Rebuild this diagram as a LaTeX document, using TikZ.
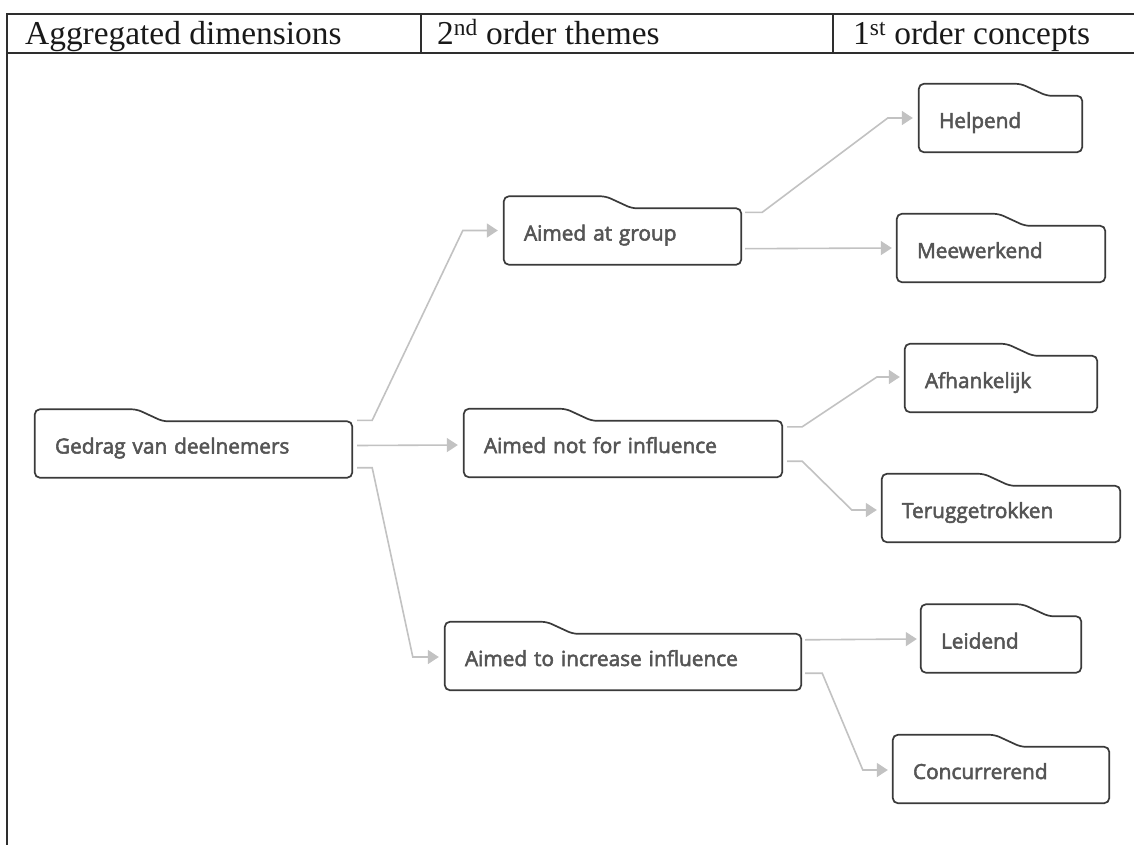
\documentclass[tikz,border=0pt]{standalone}
\usepackage{fontspec}
\setmainfont{Liberation Serif}
\newfontfamily\nodefont[FakeBold=2.5]{Open Sans}
\usetikzlibrary{calc,arrows.meta}
\pgfdeclarelayer{background}
\pgfsetlayers{background,main}
\definecolor{framec}{HTML}{2E2E2E}
\definecolor{boxline}{HTML}{3A3A3A}
\definecolor{boxtext}{HTML}{555555}
\definecolor{connc}{HTML}{C2C2C2}
\newcommand\folderoutline[1]{%
  \draw[folderline] (#1.west) -- ($(#1.north west)+(0,-12)$) -- ($(#1.north west)+(102,-12)$)
    -- ($(#1.north west)+(128,0)$) -- (#1.north east) -- (#1.south east) -- (#1.south west) -- cycle;}
\begin{document}
\begin{tikzpicture}[x=1pt,y=-1pt,
  framel/.style={draw=framec,line width=1.8pt},
  headtext/.style={anchor=base west,inner sep=0pt,font=\fontsize{33.4}{36}\selectfont,text=black!90},
  fnode/.style={minimum height=56pt,inner xsep=20pt,inner ysep=0pt,text height=12pt,text depth=4pt,
    align=left,font=\nodefont\fontsize{20.8}{24}\selectfont,text=boxtext},
  folderline/.style={draw=boxline,fill=white,line width=1.7pt,rounded corners=5pt},
  conn/.style={draw=connc,line width=1.6pt,-{Triangle[length=11pt,width=14pt]}}]
\useasboundingbox (0,0) rectangle (1134,845);
\begin{pgfonlayer}{background}
\fill[white] (0,0) rectangle (1134,845);
\end{pgfonlayer}
% table frame
\draw[framel] (7,845) -- (7,14) -- (1134,14);
\draw[framel] (7,53) -- (1134,53);
\draw[framel] (421,14) -- (421,53);
\draw[framel] (833,14) -- (833,53);
\node[headtext] (h1) at (25,45) {Aggregated dimensions};
\node[headtext] (h2) at (437,45) {2\textsuperscript{nd} order themes};
\node[headtext] (h3) at (853,45) {1\textsuperscript{st} order concepts};
% nodes
\node[fnode,text width=277pt] (G) at (193.5,449.5) {Gedrag van deelnemers};
\node[fnode,text width=197pt] (A1) at (622.5,236.5) {Aimed at group};
\node[fnode,text width=278pt] (A2) at (623,449) {Aimed not for influence};
\node[fnode,text width=316pt] (A3) at (623,662) {Aimed to increase influence};
\node[fnode,text width=123pt] (C1) at (1000.5,124) {Helpend};
\node[fnode,text width=168pt] (C2) at (1001,254) {Meewerkend};
\node[fnode,text width=152pt] (C3) at (1001,384) {Afhankelijk};
\node[fnode,text width=198pt] (C4) at (1001,514) {Teruggetrokken};
\node[fnode,text width=120pt] (C5) at (1001,644.5) {Leidend};
\node[fnode,text width=176pt] (C6) at (1001,775) {Concurrerend};
\begin{pgfonlayer}{background}
\foreach \n in {G,A1,A2,A3,C1,C2,C3,C4,C5,C6}{\folderoutline{\n}}
\end{pgfonlayer}
% connectors
\draw[conn] ($(G.north east)+(5,-1)$) -- ++(15,0) -- ($(A1.west)+(-41,-6)$) -- ($(A1.west)+(-6,-6)$);
\draw[conn] ($(G.east)+(5,-4)$) -- ($(A2.west)+(-6,-4)$);
\draw[conn] ($(G.south east)+(5,-10)$) -- ++(15,0) -- ($(A3.west)+(-32,-5)$) -- ($(A3.west)+(-6,-5)$);
\draw[conn] ($(A1.north east)+(4,4)$) -- ++(17,0) -- ($(C1.west)+(-31,-6)$) -- ($(C1.west)+(-6,-6)$);
\draw[conn] ($(A1.south east)+(4,-16)$) -- ($(C2.west)+(-5,-6)$);
\draw[conn] ($(A2.north east)+(5,6)$) -- ++(15,0) -- ($(C3.west)+(-28,-7)$) -- ($(C3.west)+(-5,-7)$);
\draw[conn] ($(A2.south east)+(5,-16)$) -- ++(15,0) -- ($(C4.west)+(-30,-4)$) -- ($(C4.west)+(-5,-4)$);
\draw[conn] ($(A3.north east)+(4,6)$) -- ($(C5.west)+(-4,-5.5)$);
\draw[conn] ($(A3.south east)+(4,-17)$) -- ++(17,0) -- ($(C6.west)+(-30,-5)$) -- ($(C6.west)+(-5,-5)$);
\end{tikzpicture}
\end{document}
